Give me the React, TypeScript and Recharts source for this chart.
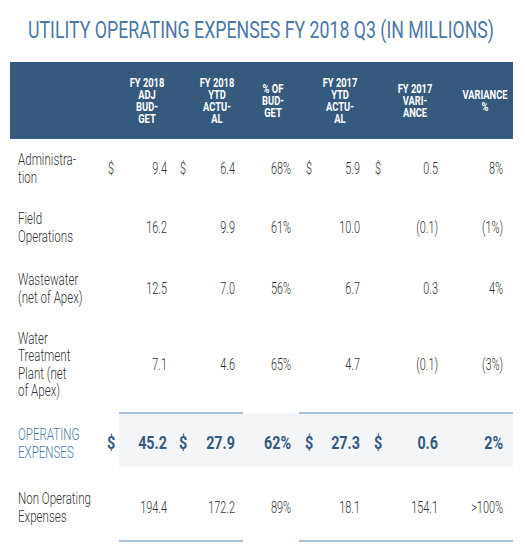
import React from 'react';
import {
  ScatterChart,
  Scatter,
  XAxis,
  YAxis,
  ReferenceArea,
  ReferenceLine,
} from 'recharts';

// table content
const rowLabels = [
  ['Administra-', 'tion'],
  ['Field', 'Operations'],
  ['Wastewater', '(net of Apex)'],
  ['Water', 'Treatment', 'Plant (net', 'of Apex)'],
  ['OPERATING', 'EXPENSES'],
  ['Non Operating', 'Expenses'],
];
const columnHeaders = [
  ['FY 2018', 'ADJ', 'BUD-', 'GET'],
  ['FY 2018', 'YTD', 'ACTU-', 'AL'],
  ['% OF', 'BUD-', 'GET'],
  ['FY 2017', 'YTD', 'ACTU-', 'AL'],
  ['FY 2017', 'VARI-', 'ANCE'],
  ['VARIANCE', '%'],
];
const adjBudget = [9.4, 16.2, 12.5, 7.1, 45.2, 194.4];
const ytdActual = [6.4, 9.9, 7.0, 4.6, 27.9, 172.2];
const pctOfBudget = [68, 61, 56, 65, 62, 89];
const fy17Actual = [5.9, 10.0, 6.7, 4.7, 27.3, 18.1];
const fy17Variance = [0.5, -0.1, 0.3, -0.1, 0.6, 154.1];
const variancePct = ['8%', '(1%)', '4%', '(3%)', '2%', '>100%'];
const dollarRows = [0, 4];
const totalRow = 4;

// layout (page pixels)
const W = 525;
const H = 560;
const COL_RIGHT = [167, 235, 291, 360, 438, 503];
const COL_CENTER = [147, 217, 273, 340, 415, 485];
const DOLLAR_X = [111, 183, null, 309, 378, null];
const ROW_Y = [168, 227, 288, 364, 443, 507];
const LABEL_X = 18;

const FONT = "Roboto, 'Open Sans', sans-serif";
const DARK_BLUE = '#365a7e';
const MID_BLUE = '#4b78a8';
const RULE = '#8eaacb';
const TEXT = '#333333';

const money = (v: number) => (v < 0 ? `(${Math.abs(v).toFixed(1)})` : v.toFixed(1));
const pct = (v: number) => `${v}%`;

const columns = [
  adjBudget.map(money),
  ytdActual.map(money),
  pctOfBudget.map(pct),
  fy17Actual.map(money),
  fy17Variance.map(money),
  variancePct,
];

const cellData = columns.flatMap((col, c) =>
  col.map((text, r) => ({ x: COL_RIGHT[c], y: ROW_Y[r], text, total: r === totalRow }))
);
const dollarData = dollarRows.flatMap((r) =>
  DOLLAR_X.filter((x) => x !== null).map((x) => ({ x, y: ROW_Y[r], text: '$', total: r === totalRow }))
);
const labelData = rowLabels.map((lines, r) => ({ x: LABEL_X, y: ROW_Y[r], lines, total: r === totalRow }));
const headerData = columnHeaders.map((lines, c) => ({ x: COL_CENTER[c], y: 100, lines }));

// condensed text: squeeze a normal face horizontally
const Narrow = ({ x, y, sx, anchor = 'start', size, weight = 'normal', fill, children }: any) => (
  <text
    transform={`translate(${x},${y}) scale(${sx},1)`}
    x={0}
    y={0}
    dy="0.36em"
    textAnchor={anchor}
    fontFamily={FONT}
    fontSize={size}
    fontWeight={weight}
    fill={fill}
  >
    {children}
  </text>
);

const CellText = (props: any) => {
  const { cx, cy, payload } = props;
  const anchor = payload.text === '$' ? 'middle' : 'end';
  return payload.total ? (
    <Narrow x={cx} y={cy} sx={0.82} anchor={anchor} size={17.5} weight="bold" fill={DARK_BLUE}>
      {payload.text}
    </Narrow>
  ) : (
    <Narrow x={cx} y={cy} sx={0.64} anchor={anchor} size={17} weight={300} fill={TEXT}>
      {payload.text}
    </Narrow>
  );
};

const RowLabel = (props: any) => {
  const { cx, cy, payload } = props;
  const lh = 17.5;
  const n = payload.lines.length;
  return (
    <g>
      {payload.lines.map((line: string, k: number) => (
        <Narrow
          key={k}
          x={cx}
          y={cy + (k - (n - 1) / 2) * lh}
          sx={0.68}
          size={17}
          weight={300}
          fill={payload.total ? MID_BLUE : TEXT}
        >
          {line}
        </Narrow>
      ))}
    </g>
  );
};

const HeaderLabel = (props: any) => {
  const { cx, cy, payload } = props;
  const lh = 12;
  const n = payload.lines.length;
  return (
    <g>
      {payload.lines.map((line: string, k: number) => (
        <Narrow
          key={k}
          x={cx}
          y={cy + (k - (n - 1) / 2) * lh}
          sx={0.72}
          anchor="middle"
          size={13}
          weight="bold"
          fill="#ffffff"
        >
          {line}
        </Narrow>
      ))}
    </g>
  );
};

export default function App() {
  return (
    <div style={{ position: 'absolute', left: 0, top: 0, width: W, height: H, background: '#fff' }}>
      <ScatterChart width={W} height={H} margin={{ top: 0, right: 0, bottom: 0, left: 0 }}>
        <XAxis type="number" dataKey="x" domain={[0, W]} hide />
        <YAxis type="number" dataKey="y" domain={[0, H]} reversed hide />
        <ReferenceArea x1={10} x2={513} y1={62} y2={139} fill={DARK_BLUE} fillOpacity={1} stroke="none" />
        <ReferenceArea x1={119} x2={513} y1={413} y2={467} fill="#f4f5f6" fillOpacity={1} stroke="none" />
        <ReferenceLine segment={[{ x: 119, y: 413 }, { x: 243, y: 413 }]} stroke={RULE} strokeWidth={1.5} />
        <ReferenceLine segment={[{ x: 299, y: 413 }, { x: 513, y: 413 }]} stroke={RULE} strokeWidth={1.5} />
        <ReferenceLine segment={[{ x: 119, y: 541 }, { x: 243, y: 541 }]} stroke={RULE} strokeWidth={1.5} />
        <ReferenceLine segment={[{ x: 299, y: 541 }, { x: 513, y: 541 }]} stroke={RULE} strokeWidth={1.5} />
        <Scatter data={headerData} shape={HeaderLabel} isAnimationActive={false} />
        <Scatter data={labelData} shape={RowLabel} isAnimationActive={false} />
        <Scatter data={dollarData} shape={CellText} isAnimationActive={false} />
        <Scatter data={cellData} shape={CellText} isAnimationActive={false} />
        <text
          x={261}
          y={29}
          dy="0.36em"
          textAnchor="middle"
          textLength={466}
          lengthAdjust="spacingAndGlyphs"
          fontFamily={FONT}
          fontSize={24}
          fill={MID_BLUE}
        >
          UTILITY OPERATING EXPENSES FY 2018 Q3 (IN MILLIONS)
        </text>
      </ScatterChart>
    </div>
  );
}
